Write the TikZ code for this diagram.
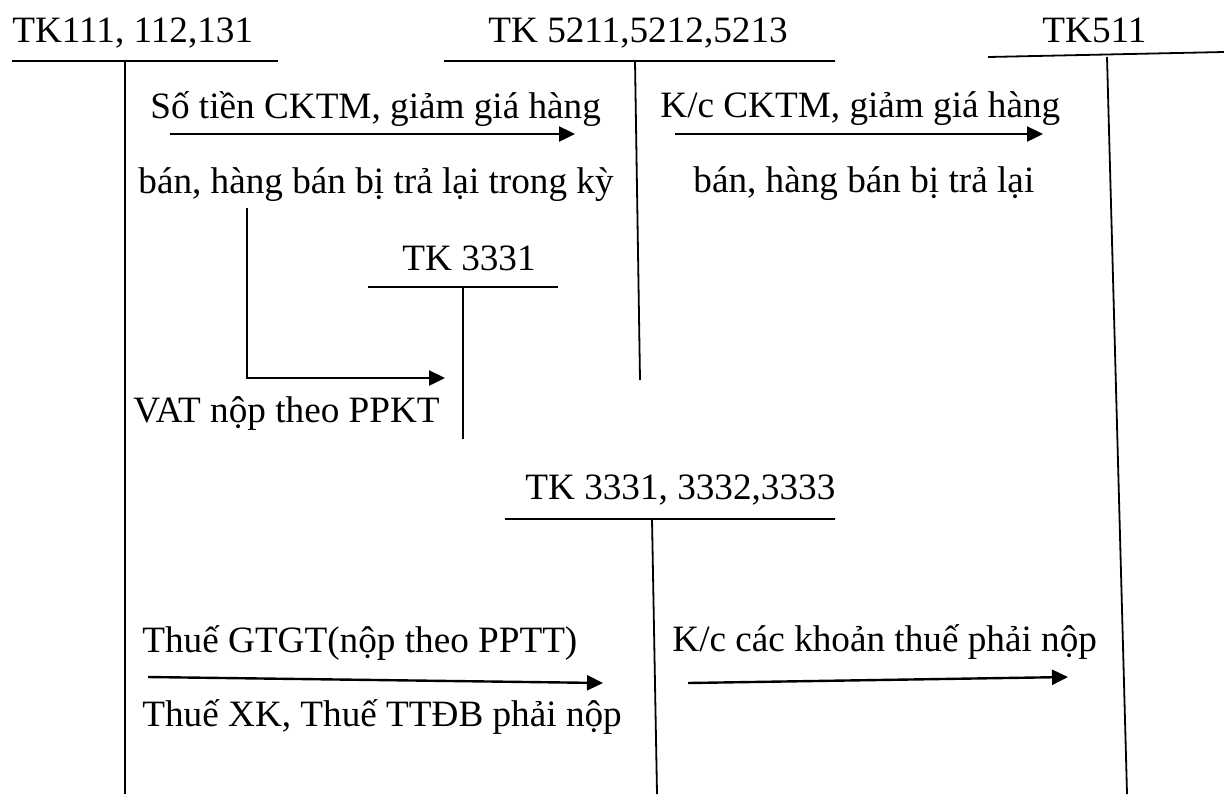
\documentclass[tikz,border=0pt]{standalone}
\usepackage{fontspec}
\setmainfont{Liberation Serif}
\usetikzlibrary{arrows.meta}
\begin{document}
\begin{tikzpicture}[x=0.5pt,y=-0.5pt,
  txt/.style={anchor=base west,inner sep=0pt,font=\fontsize{18.6}{22}\selectfont},
  tline/.style={line width=0.9pt},
  flow/.style={line width=1.2pt,-{Triangle[length=8pt,width=7.5pt]}}]
\useasboundingbox (0,0) rectangle (1224,794);

% account titles
\node[txt] (t111) at (12,42) {TK111, 112,131};
\node[txt] (t521) at (488,42) {TK 5211,5212,5213};
\node[txt] (t511) at (1042,42) {TK511};
\node[txt] (t3331) at (402,270) {TK 3331};
\node[txt] (t333x) at (525,499) {TK 3331, 3332,3333};

% T-account frames
\coordinate (a1l) at (12,61);   \coordinate (a1r) at (278,61);
\coordinate (a1t) at (125,61);  \coordinate (a1b) at (125,794);
\coordinate (a2l) at (444,61);  \coordinate (a2r) at (835,61);
\coordinate (a2t) at (635,61);  \coordinate (a2b) at (640,380);
\coordinate (a3l) at (988,57);  \coordinate (a3r) at (1224,52);
\coordinate (a3t) at (1107,57); \coordinate (a3b) at (1127,794);
\coordinate (a4l) at (368,287); \coordinate (a4r) at (558,287);
\coordinate (a4t) at (463,287); \coordinate (a4b) at (463,439);
\coordinate (a5l) at (505,519); \coordinate (a5r) at (835,519);
\coordinate (a5t) at (652,519); \coordinate (a5b) at (657,794);
\draw[tline] (a1l) -- (a1r) (a1t) -- (a1b);
\draw[tline] (a2l) -- (a2r) (a2t) -- (a2b);
\draw[tline] (a3l) -- (a3r) (a3t) -- (a3b);
\draw[tline] (a4l) -- (a4r) (a4t) -- (a4b);
\draw[tline] (a5l) -- (a5r) (a5t) -- (a5b);

% entries
\node[txt] (e1a) at (150,118) {Số tiền CKTM, giảm giá hàng};
\node[txt] (e1b) at (138,193) {bán, hàng bán bị trả lại trong kỳ};
\node[txt] (e2a) at (660,117) {K/c CKTM, giảm giá hàng};
\node[txt] (e2b) at (693,192) {bán, hàng bán bị trả lại};
\node[txt] (e3)  at (133,422) {VAT nộp theo PPKT};
\node[txt] (e4a) at (142,652) {Thuế GTGT(nộp theo PPTT)};
\node[txt] (e4b) at (142,726) {Thuế XK, Thuế TTĐB phải nộp};
\node[txt] (e5)  at (672,651) {K/c các khoản thuế phải nộp};

% flows
\coordinate (f1s) at (170,134);  \coordinate (f1e) at (575,134);
\coordinate (f2s) at (675,134);  \coordinate (f2e) at (1043,134);
\coordinate (f3s) at (247,208);  \coordinate (f3c) at (247,378);
\coordinate (f3e) at (445,378);
\coordinate (f4s) at (148,677);  \coordinate (f4e) at (603,683);
\coordinate (f5s) at (688,683);  \coordinate (f5e) at (1068,677);
\draw[flow] (f1s) -- (f1e);
\draw[flow] (f2s) -- (f2e);
\draw[flow] (f3s) -- (f3c) -- (f3e);
\draw[flow] (f4s) -- (f4e);
\draw[flow] (f5s) -- (f5e);
\end{tikzpicture}
\end{document}
